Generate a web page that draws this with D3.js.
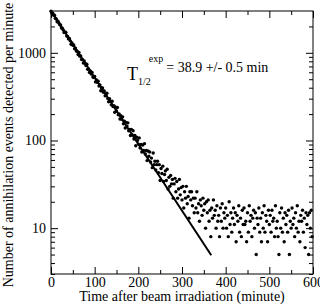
<!DOCTYPE html>
<html lang="en">
<head>
<meta charset="utf-8">
<title>Annihilation events decay</title>
<script src="https://d3js.org/d3.v7.min.js"></script>
<style>
  body { margin: 0; background: #fff; }
</style>
</head>
<body>
<div id="chart"></div>
<script>

// samples every 2 minutes after irradiation
var minutes = d3.range(0, 600, 2);

// counts per minute
var counts = [
  2990, 2836, 2836, 2686, 2679, 2475, 2427, 2260, 2298, 2196,
  2087, 2081, 1916, 1914, 1818, 1703, 1726, 1713, 1560, 1533,
  1441, 1458, 1370, 1254, 1294, 1217, 1232, 1112, 1132, 1048,
  1043, 956, 1009, 917, 920, 839, 838, 764, 806, 762,
  716, 740, 649, 656, 598, 621, 573, 596, 529, 524,
  537, 466, 491, 461, 474, 419, 431, 369, 397, 397,
  355, 367, 323, 331, 347, 302, 277, 299, 280, 255,
  280, 244, 250, 210, 240, 217, 238, 196, 201, 176,
  192, 175, 186, 155, 166, 139, 161, 146, 159, 129,
  134, 114, 134, 116, 129, 104, 114, 87, 109, 100,
  91, 107, 82, 90, 74, 89, 77, 92, 70, 77,
  59, 76, 66, 74, 57, 63, 49, 72, 53, 58,
  46, 53, 58, 43, 53, 35, 48, 42, 51, 34,
  41, 45, 35, 47, 28, 38, 30, 40, 32, 36,
  22, 32, 37, 26, 34, 22, 28, 36, 24, 29,
  21, 30, 17, 26, 22, 30, 19, 23, 13, 26,
  21, 26, 18, 22, 15, 22, 17, 26, 15, 19,
  12, 21, 18, 14, 22, 16, 19, 10, 20, 15,
  21, 12, 16, 8, 17, 13, 21, 14, 16, 10,
  18, 12, 14, 8, 17, 12, 19, 10, 15, 13,
  17, 10, 14, 8, 20, 11, 15, 9, 13, 17,
  11, 15, 7, 14, 12, 18, 9, 13, 8, 16,
  11, 17, 11, 12, 7, 15, 9, 18, 12, 14,
  8, 13, 16, 10, 15, 5, 13, 11, 17, 9,
  13, 7, 15, 10, 18, 9, 14, 12, 7, 16,
  11, 14, 9, 16, 12, 13, 8, 18, 10, 12,
  8, 5, 15, 10, 17, 9, 13, 7, 15, 11,
  14, 9, 16, 5, 12, 10, 17, 11, 13, 8,
  15, 10, 18, 9, 12, 7, 14, 12, 16, 9,
  13, 6, 15, 11, 14, 5, 15, 10, 16, 8
];

// exponential fit (straight on log axis), its two end points
var fitMinutes = [0, 367];
var fitCounts = [3000, 4.9];

// axis ticks
var xMajor = [0, 100, 200, 300, 400, 500, 600];
var xMinor = [50, 150, 250, 350, 450, 550];
var yMajor = [10, 100, 1000];
var yMinor = [3, 4, 5, 6, 7, 8, 9, 20, 30, 40, 50, 60, 70, 80, 90,
              200, 300, 400, 500, 600, 700, 800, 900, 2000];

var W = 320, H = 304;
var margin = {top: 11, right: 7, bottom: 30, left: 51};
var serif = "'Liberation Serif', 'DejaVu Serif', serif";

var svg = d3.select("#chart")
  .append("svg")
    .attr("width", W)
    .attr("height", H)
    .attr("font-family", serif);

var x = d3.scaleLinear()
    .domain([0, 600])
    .range([margin.left, W - margin.right]);

var y = d3.scaleLog()
    .domain([3, 3000])
    .range([H - margin.bottom, margin.top]);

var x0 = x.range()[0], x1 = x.range()[1];
var y0 = y.range()[0], y1 = y.range()[1];

// ticks on all four sides, pointing in
function ticks(g) {
  g.attr("font-family", serif).attr("font-size", 14);
  g.selectAll(".domain").remove();
  g.selectAll("line").attr("stroke", "#000");
  g.selectAll("text").attr("fill", "#000");
}

svg.append("g")
  .attr("transform", "translate(0," + y0 + ")")
  .call(d3.axisBottom(x).tickValues(xMajor).tickSize(-7).tickPadding(3).tickFormat(d3.format("d")))
  .call(ticks);
svg.append("g")
  .attr("transform", "translate(0," + y0 + ")")
  .call(d3.axisBottom(x).tickValues(xMinor).tickSize(-4).tickFormat(""))
  .call(ticks);
svg.append("g")
  .attr("transform", "translate(0," + y1 + ")")
  .call(d3.axisTop(x).tickValues(xMajor).tickSize(-7).tickFormat(""))
  .call(ticks);
svg.append("g")
  .attr("transform", "translate(0," + y1 + ")")
  .call(d3.axisTop(x).tickValues(xMinor).tickSize(-4).tickFormat(""))
  .call(ticks);

svg.append("g")
  .attr("transform", "translate(" + x0 + ",0)")
  .call(d3.axisLeft(y).tickValues(yMajor).tickSize(-7).tickPadding(5).tickFormat(d3.format("d")))
  .call(ticks);
svg.append("g")
  .attr("transform", "translate(" + x0 + ",0)")
  .call(d3.axisLeft(y).tickValues(yMinor).tickSize(-4).tickFormat(""))
  .call(ticks);
svg.append("g")
  .attr("transform", "translate(" + x1 + ",0)")
  .call(d3.axisRight(y).tickValues(yMajor).tickSize(-7).tickFormat(""))
  .call(ticks);
svg.append("g")
  .attr("transform", "translate(" + x1 + ",0)")
  .call(d3.axisRight(y).tickValues(yMinor).tickSize(-4).tickFormat(""))
  .call(ticks);

// frame
svg.append("rect")
  .attr("x", x0)
  .attr("y", y1)
  .attr("width", x1 - x0)
  .attr("height", y0 - y1)
  .attr("fill", "none")
  .attr("stroke", "#000")
  .attr("stroke-width", 1);

// data points
svg.append("g")
  .selectAll("circle")
  .data(counts)
  .join("circle")
    .attr("cx", function(d, i) { return x(minutes[i]); })
    .attr("cy", function(d) { return y(d); })
    .attr("r", 1.7)
    .attr("fill", "#000");

// fit line
svg.append("path")
  .datum(fitMinutes.map(function(t, i) { return [t, fitCounts[i]]; }))
  .attr("fill", "none")
  .attr("stroke", "#000")
  .attr("stroke-width", 2)
  .attr("d", d3.line()
    .x(function(d) { return x(d[0]); })
    .y(function(d) { return y(d[1]); }));

// axis titles
svg.append("text")
  .attr("x", 182)
  .attr("y", 301)
  .attr("text-anchor", "middle")
  .attr("font-size", 14)
  .text("Time after beam irradiation (minute)");

svg.append("text")
  .attr("transform", "translate(13,145) rotate(-90)")
  .attr("text-anchor", "middle")
  .attr("font-size", 14)
  .text("Number of annihilation events detected per minute");

// half-life annotation
var note = svg.append("text")
  .attr("x", 127)
  .attr("y", 80)
  .attr("font-size", 18);
note.append("tspan").text("T");
note.append("tspan").attr("dy", 5).attr("font-size", 10).text("1/2");
note.append("tspan").attr("dx", -2).attr("dy", -23).attr("font-size", 10).text("exp");
note.append("tspan").attr("dy", 10).attr("dx", 3).attr("font-size", 14).text("= 38.9 +/- 0.5 min");

</script>
</body>
</html>
